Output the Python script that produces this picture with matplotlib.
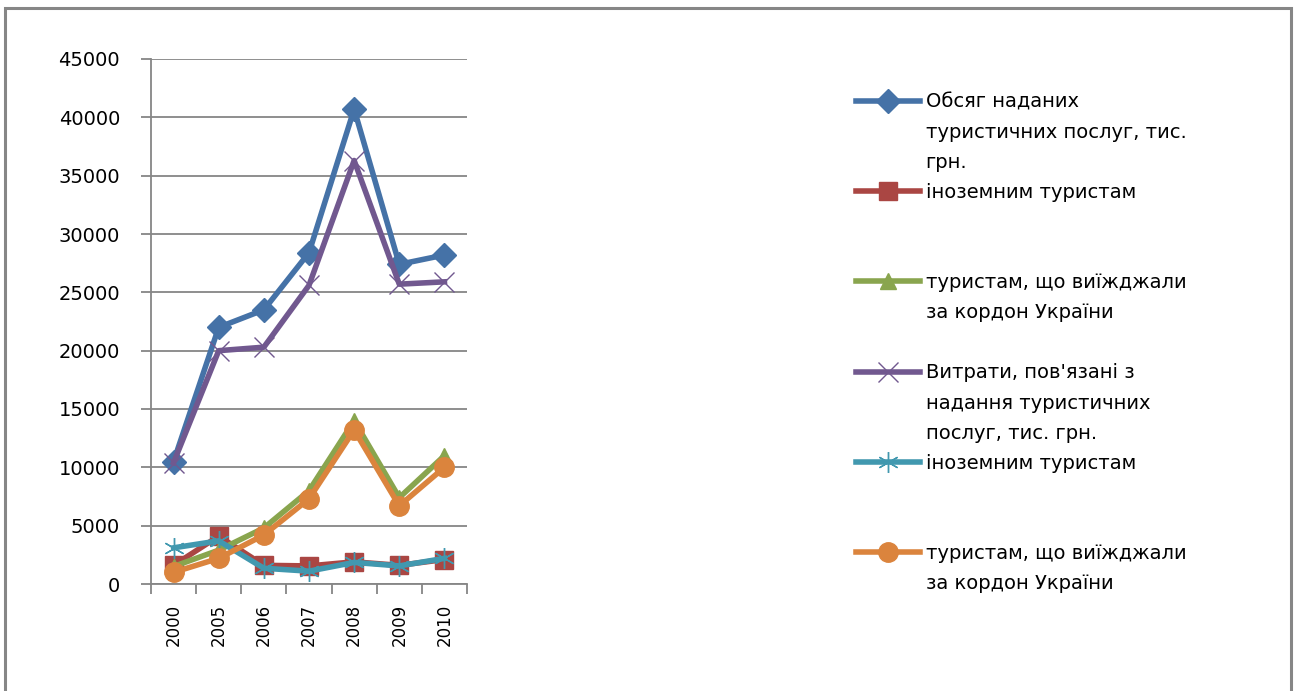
import matplotlib
matplotlib.use("Agg")
import matplotlib.pyplot as plt
from matplotlib.lines import Line2D
import numpy as np

years = ["2000", "2005", "2006", "2007", "2008", "2009", "2010"]

obsyag = [10500, 22000, 23500, 28400, 40700, 27400, 28200]
inozem1 = [1600, 4100, 1600, 1550, 1900, 1600, 2100]
vyizhdzh1 = [1500, 2900, 4800, 8000, 14000, 7400, 11000]
vytraty = [10400, 20000, 20300, 25600, 36300, 25700, 25900]
inozem2 = [3100, 3700, 1350, 1100, 1850, 1550, 2200]
vyizhdzh2 = [1000, 2200, 4200, 7300, 13200, 6700, 10000]

labels = [
    ["Обсяг наданих", "туристичних послуг, тис.", "грн."],
    ["іноземним туристам"],
    ["туристам, що виїжджали", "за кордон України"],
    ["Витрати, пов'язані з", "надання туристичних", "послуг, тис. грн."],
    ["іноземним туристам"],
    ["туристам, що виїжджали", "за кордон України"],
]
yticks = [0, 5000, 10000, 15000, 20000, 25000, 30000, 35000, 40000, 45000]

colors = ["#4572A7", "#AA4643", "#89A54E", "#71588F", "#4198AF", "#DB843D"]
series = [obsyag, inozem1, vyizhdzh1, vytraty, inozem2, vyizhdzh2]
styles = [
    dict(marker="D", markersize=12),
    dict(marker="s", markersize=13),
    dict(marker="^", markersize=12),
    dict(marker="x", markersize=15, markeredgewidth=1.0),
    dict(marker=(6, 2, 0), markersize=15, markeredgewidth=1.0),
    dict(marker="o", markersize=14),
]

plt.rcParams['font.family'] = ['DejaVu Sans']
fig = plt.figure(figsize=(12.96, 6.91), dpi=100)
ax = fig.add_axes([151/1296, 1-584/691, (467-151)/1296, (584-59)/691])

x = np.arange(len(years))
handles = []
for vals, c, st in zip(series, colors, styles):
    h, = ax.plot(x, vals, color=c, linewidth=4.0, markeredgecolor=c,
                 markerfacecolor=c, solid_joinstyle="round", **st)
    handles.append(h)

grid_c = "#868686"
ax.set_xlim(-0.5, len(years) - 0.5)
ax.set_ylim(0, 45000)
ax.set_yticks(yticks)
ax.set_yticklabels([str(v) for v in yticks], fontsize=14)
ax.yaxis.grid(True, color=grid_c, linewidth=1.3)
ax.set_axisbelow(True)
ax.tick_params(axis="y", length=7.2, width=1.3, color=grid_c, pad=15)
ax.set_xticks(x)
ax.set_xticklabels(years, rotation=90, fontsize=12)
ax.set_xticks(np.arange(len(years) + 1) - 0.5, minor=True)
ax.tick_params(axis="x", which="major", length=0, pad=14)
ax.tick_params(axis="x", which="minor", length=7, width=1.3, color=grid_c)
for s in ["top", "right"]:
    ax.spines[s].set_visible(False)
for s in ["left", "bottom"]:
    ax.spines[s].set_color(grid_c)
    ax.spines[s].set_linewidth(1.3)

# legend: each entry occupies three rows
blank = Line2D([], [], linestyle="none")
leg_h, leg_l = [], []
for h, lab in zip(handles, labels):
    rows = lab + [" "] * (3 - len(lab))
    for i, r in enumerate(rows):
        leg_h.append(h if i == 0 else blank)
        leg_l.append(r)
leg = fig.legend(leg_h, leg_l, loc="upper left", bbox_to_anchor=(846/1296, 1-83/691),
                 frameon=False, fontsize=14, handlelength=3.3, handletextpad=0.3,
                 labelspacing=0.57, borderpad=0, markerscale=1.0)

# outer frame
fig.patches.append(plt.Rectangle((5/1296, -0.05), (1291-5)/1296, 1.05 - 8/691,
                                 transform=fig.transFigure, fill=False,
                                 edgecolor=grid_c, linewidth=2.2))

fig.savefig("out.png", dpi=100)
